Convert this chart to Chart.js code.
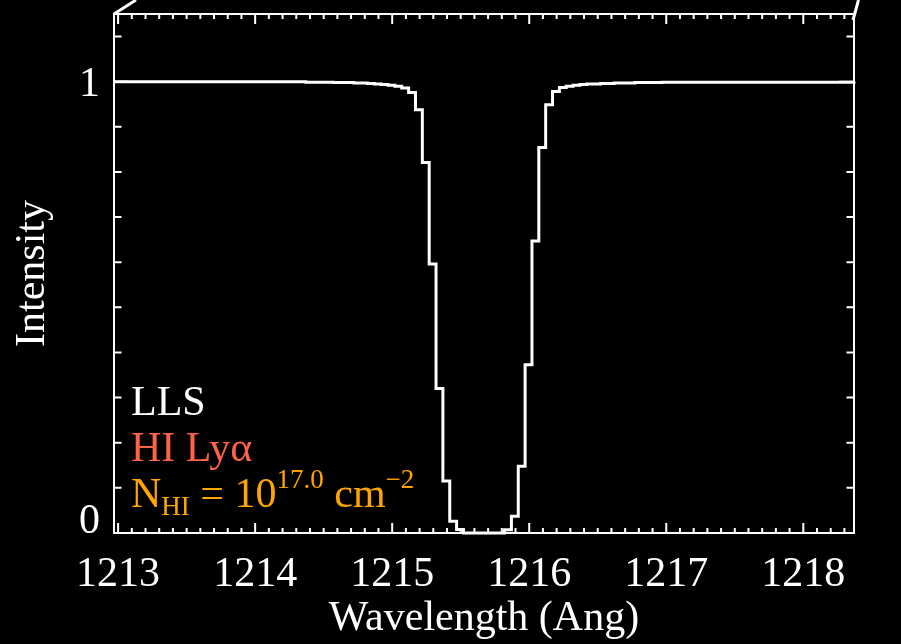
<!DOCTYPE html>
<html>
<head>
<meta charset="utf-8">
<script src="https://cdn.jsdelivr.net/npm/chart.js@4.4.0/dist/chart.umd.min.js"></script>
<style>
  html, body { margin: 0; padding: 0; background: #000; }
  canvas { display: block; }
</style>
</head>
<body>
<canvas id="lyaChart" width="901" height="644"></canvas>
<script>
// start wavelength of each bin (Ang) and the intensity of that bin
const wavelength = [1212.97, 1214.37, 1214.57, 1214.72, 1214.82, 1214.87, 1214.92, 1214.97, 1215.02, 1215.07,
                    1215.12, 1215.17, 1215.22, 1215.27, 1215.32, 1215.37, 1215.42, 1215.47, 1215.52, 1215.82,
                    1215.87, 1215.92, 1215.97, 1216.02, 1216.07, 1216.12, 1216.17, 1216.22, 1216.27, 1216.32,
                    1216.37, 1216.42, 1216.52, 1216.62, 1216.77, 1216.97, 1218.37];
const intensity = [1.000, 0.999, 0.998, 0.997, 0.996, 0.995, 0.994, 0.992, 0.990, 0.986,
                   0.976, 0.938, 0.821, 0.596, 0.320, 0.115, 0.026, 0.008, 0.000, 0.007,
                   0.037, 0.148, 0.373, 0.647, 0.854, 0.949, 0.978, 0.987, 0.990, 0.992,
                   0.994, 0.995, 0.996, 0.997, 0.998, 0.999, 1.000];

const xRange = [1212.97, 1218.37];
const yRange = [0, 1.15];
const xTicks = [1213, 1214, 1215, 1216, 1217, 1218];
const yTickLabels = [0, 1];

const serif = 'Liberation Serif';

// frame, inward ticks on all sides, y labels, text block and the two connector lines
const framePlugin = {
  id: 'frame',
  afterDraw(chart) {
    const { ctx, chartArea: a, scales: { x, y } } = chart;
    ctx.save();
    ctx.strokeStyle = '#fff';
    ctx.lineWidth = 2;
    ctx.strokeRect(a.left, a.top, a.right - a.left, a.bottom - a.top);

    ctx.beginPath();
    for (let k = Math.ceil(xRange[0] * 10); k <= xRange[1] * 10; k++) {
      const px = x.getPixelForValue(k / 10);
      const len = k % 10 === 0 ? 10 : 5;
      ctx.moveTo(px, a.bottom); ctx.lineTo(px, a.bottom - len);
      ctx.moveTo(px, a.top); ctx.lineTo(px, a.top + len);
    }
    for (let k = 0; k <= yRange[1] * 10; k++) {
      const py = y.getPixelForValue(k / 10);
      const len = k % 10 === 0 ? 15 : 7.5;
      ctx.moveTo(a.left, py); ctx.lineTo(a.left + len, py);
      ctx.moveTo(a.right, py); ctx.lineTo(a.right - len, py);
    }
    ctx.stroke();

    // connector lines leaving the top corners
    ctx.lineWidth = 3;
    ctx.beginPath();
    ctx.moveTo(a.left, a.top); ctx.lineTo(a.left + 22, 0);
    ctx.moveTo(a.right - 1, a.top + 6); ctx.lineTo(a.right + 4.5, 0);
    ctx.stroke();

    // y tick labels
    ctx.fillStyle = '#fff';
    ctx.font = '42px "' + serif + '"';
    ctx.textAlign = 'right';
    ctx.textBaseline = 'alphabetic';
    yTickLabels.forEach(v => {
      const py = y.getPixelForValue(v);
      ctx.fillText(String(v), a.left - 14, Math.min(py + 14, a.bottom));
    });

    // text block
    ctx.textAlign = 'left';
    const tx = a.left + 17;
    ctx.font = '42px "' + serif + '"';
    ctx.fillStyle = '#ffffff';
    ctx.fillText('LLS', tx, a.bottom - 118);
    ctx.fillStyle = '#ff6347';
    ctx.fillText('HI Ly\u03b1', tx, a.bottom - 72);

    const parts = [
      { t: 'N', k: 'main' }, { t: 'HI', k: 'sub' }, { t: ' = 10', k: 'main' },
      { t: '17.0', k: 'sup' }, { t: ' cm', k: 'main' }, { t: '\u22122', k: 'sup' }
    ];
    ctx.fillStyle = '#ffa500';
    let cx = tx;
    const base = a.bottom - 26;
    parts.forEach(p => {
      let dy = 0;
      if (p.k === 'main') ctx.font = '42px "' + serif + '"';
      else ctx.font = '27px "' + serif + '"';
      if (p.k === 'sub') dy = 8;
      if (p.k === 'sup') dy = -19;
      ctx.fillText(p.t, cx, base + dy);
      cx += ctx.measureText(p.t).width;
    });
    ctx.restore();
  }
};

const ctx = document.getElementById('lyaChart').getContext('2d');
const lyaChart = new Chart(ctx, {
  type: 'line',
  data: {
    datasets: [{
      data: wavelength.map((w, i) => ({ x: w, y: intensity[i] })),
      borderColor: '#ffffff',
      borderWidth: 3,
      stepped: 'before',
      pointRadius: 0,
      fill: false,
      clip: 4
    }]
  },
  options: {
    responsive: false,
    animation: false,
    devicePixelRatio: 1,
    layout: { padding: { top: 14, right: 47, left: 0, bottom: 0 } },
    plugins: { legend: { display: false }, tooltip: { enabled: false } },
    scales: {
      x: {
        type: 'linear',
        min: xRange[0],
        max: xRange[1],
        afterBuildTicks: s => { s.ticks = xTicks.map(v => ({ value: v })); },
        afterFit: s => { s.height = 111; },
        grid: { display: false, drawTicks: false },
        border: { display: false },
        ticks: {
          color: '#fff',
          font: { family: serif, size: 42 },
          padding: 17,
          maxRotation: 0,
          autoSkip: false,
          callback: v => String(v)
        },
        title: {
          display: true,
          text: 'Wavelength (Ang)',
          color: '#fff',
          font: { family: serif, size: 42 },
          padding: { top: 0, bottom: 0 }
        }
      },
      y: {
        type: 'linear',
        min: yRange[0],
        max: yRange[1],
        afterFit: s => { s.width = 114; },
        grid: { display: false, drawTicks: false },
        border: { display: false },
        ticks: { display: false },
        title: {
          display: true,
          text: 'Intensity',
          color: '#fff',
          font: { family: serif, size: 42 },
          padding: { top: 8, bottom: 0 }
        }
      }
    }
  },
  plugins: [framePlugin]
});
</script>
</body>
</html>
